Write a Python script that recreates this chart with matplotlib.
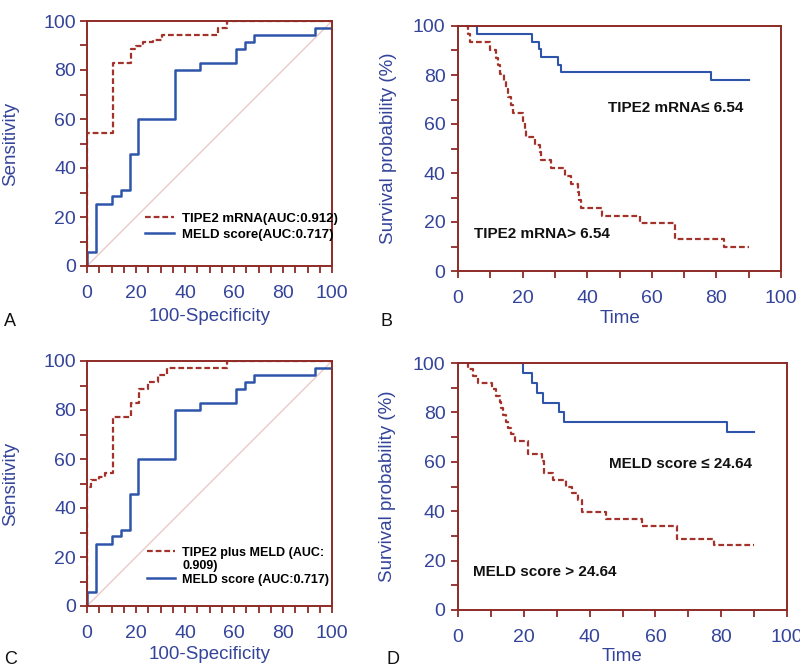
import matplotlib
matplotlib.use("Agg")
import matplotlib.pyplot as plt
from matplotlib.lines import Line2D
from matplotlib.ticker import MultipleLocator

plt.rcParams['font.family'] = ['Liberation Sans', 'DejaVu Sans']

# ---------------- data ----------------
# ROC panel A
rocA_tipe2_fpr = [0, 0, 10.7, 18.0, 20.0, 23.0, 27.0, 30.5, 53.5, 57.0, 100]
rocA_tipe2_tpr = [0, 54.2, 82.8, 88.6, 89.6, 91.4, 92.3, 94.1, 97.2, 100, 100]
roc_meld_fpr = [0, 0, 3.8, 10.4, 14.0, 17.7, 20.9, 35.9, 46.1, 60.7, 64.3, 68.0, 93.2, 100]
roc_meld_tpr = [0, 5.7, 25.5, 28.4, 31.0, 45.6, 60.0, 80.1, 82.9, 88.6, 91.4, 94.3, 97.1, 100]
# ROC panel C
rocC_comb_fpr = [0, 0, 1.8, 5.0, 7.5, 10.6, 18.0, 21.3, 25.0, 29.0, 32.5, 57.0, 100]
rocC_comb_tpr = [0, 48.5, 51.4, 52.8, 54.3, 77.0, 82.8, 88.6, 91.4, 94.3, 97.1, 100, 100]
# KM panel B
kmB_low_t = [2.6, 5.8, 23.0, 25.0, 25.8, 31.0, 32.0, 78.2, 90.2]
kmB_low_s = [100, 96.8, 93.6, 90.6, 87.4, 84.2, 81.2, 77.9, 77.9]
kmB_high_t = [2.6, 3.0, 3.6, 9.8, 11.9, 12.5, 13.0, 14.3, 15.0, 15.5, 16.3, 17.0, 20.1, 20.6,
              21.0, 23.8, 25.5, 25.8, 28.9, 33.0, 35.1, 37.0, 37.6, 38.2, 44.7, 56.3, 67.1, 82.3, 90.2]
kmB_high_s = [100, 96.8, 93.5, 90.3, 87.1, 83.9, 80.6, 77.4, 74.2, 71.0, 67.7, 64.5, 61.3, 58.1,
              54.8, 51.6, 48.4, 45.2, 41.9, 38.7, 35.5, 32.3, 29.0, 25.8, 22.6, 19.4, 12.9, 9.7, 9.7]
# KM panel D
kmD_low_t = [2.6, 19.8, 22.4, 24.1, 25.7, 30.8, 32.2, 81.9, 90.0]
kmD_low_s = [100, 96, 92, 88, 84, 80, 76, 72, 72]
kmD_high_t = [2.6, 3.0, 4.6, 6.1, 10.2, 11.7, 12.7, 13.2, 13.7, 14.7, 15.2, 16.2, 17.3, 21.2,
              25.4, 26.0, 28.9, 32.8, 34.5, 36.5, 37.6, 45.0, 55.8, 66.5, 77.9, 90.0]
kmD_high_s = [100, 97.4, 94.7, 92.1, 89.5, 86.8, 84.2, 81.6, 78.9, 76.3, 73.7, 71.1, 68.4, 63.2,
              60.5, 55.3, 52.6, 50.0, 47.4, 44.7, 39.5, 36.8, 34.2, 28.9, 26.3, 26.3]

ticks = [0, 20, 40, 60, 80, 100]

# ---------------- style ----------------
SPINE = '#8e2b26'
RED = '#a3322a'
BLUE = '#2f55aa'
TXT = '#34449a'
DIAG = '#ebc9c9'
DASH = (0, (2.6, 1.3))

fig = plt.figure(figsize=(8, 6.68), dpi=100)


def style_axes(ax, xminor, ypad):
    ax.set_xlim(0, 100)
    ax.set_ylim(0, 100)
    ax.set_xticks(ticks)
    ax.set_yticks(ticks)
    ax.xaxis.set_minor_locator(MultipleLocator(xminor))
    ax.yaxis.set_minor_locator(MultipleLocator(10))
    for s in ax.spines.values():
        s.set_color(SPINE)
        s.set_linewidth(1.4)
        s.set_zorder(5)
    ax.tick_params(which='both', direction='out', color=SPINE, width=1.3,
                   top=False, right=False)
    ax.tick_params(which='major', length=5, labelsize=14, labelcolor=TXT)
    ax.tick_params(which='minor', length=5)
    ax.tick_params(axis='x', which='major', pad=9)
    ax.tick_params(axis='y', which='major', pad=ypad)


def fpos(l, t, r, b):
    return [l / 800, 1 - b / 668, (r - l) / 800, (b - t) / 668]


LBL = 13.5

# Panel A
axA = fig.add_axes(fpos(87, 21, 332, 266))
style_axes(axA, 5, 3)
axA.plot([0, 100], [0, 100], color=DIAG, lw=1.0, zorder=1)
axA.plot(rocA_tipe2_fpr, rocA_tipe2_tpr, drawstyle='steps-post', color=RED, lw=1.6,
         linestyle=DASH, label='TIPE2 mRNA(AUC:0.912)')
axA.plot(roc_meld_fpr, roc_meld_tpr, drawstyle='steps-post', color=BLUE, lw=1.8,
         label='MELD score(AUC:0.717)')
axA.set_ylabel('Sensitivity', fontsize=LBL, color=TXT)
axA.set_xlabel('100-Specificity', fontsize=LBL, color=TXT)
axA.yaxis.set_label_coords(-0.278, 0.5)
axA.xaxis.set_label_coords(0.5, -0.172)
axA.legend(loc='upper left', bbox_to_anchor=(0.215, 0.24), frameon=False,
           prop={'weight': 'bold', 'size': 9.5}, handlelength=2.2, labelspacing=0.3,
           handletextpad=0.6, borderaxespad=0)

# Panel B
axB = fig.add_axes(fpos(458, 26, 781, 271))
style_axes(axB, 10, 4)
axB.plot(kmB_high_t, kmB_high_s, drawstyle='steps-post', color=RED, lw=1.6, linestyle=DASH)
axB.plot(kmB_low_t, kmB_low_s, drawstyle='steps-post', color=BLUE, lw=1.5)
axB.set_ylabel('Survival probability (%)', fontsize=LBL, color=TXT)
axB.set_xlabel('Time', fontsize=LBL, color=TXT)
axB.yaxis.set_label_coords(-0.19, 0.5)
axB.xaxis.set_label_coords(0.5, -0.16)
axB.text(67.5, 66.5, 'TIPE2 mRNA\u2264 6.54', fontsize=11, fontweight='bold',
         ha='center', va='center', color='#111111')
axB.text(26.0, 15.3, 'TIPE2 mRNA> 6.54', fontsize=11, fontweight='bold',
         ha='center', va='center', color='#111111')

# Panel C
axC = fig.add_axes(fpos(87, 361, 332, 606))
style_axes(axC, 5, 3)
axC.plot([0, 100], [0, 100], color=DIAG, lw=1.0, zorder=1)
lC1, = axC.plot(rocC_comb_fpr, rocC_comb_tpr, drawstyle='steps-post', color=RED, lw=1.6,
                linestyle=DASH)
lC2, = axC.plot(roc_meld_fpr, roc_meld_tpr, drawstyle='steps-post', color=BLUE, lw=1.8)
blank = Line2D([], [], color='none')
axC.set_ylabel('Sensitivity', fontsize=LBL, color=TXT)
axC.set_xlabel('100-Specificity', fontsize=LBL, color=TXT)
axC.yaxis.set_label_coords(-0.278, 0.5)
axC.xaxis.set_label_coords(0.5, -0.165)
axC.legend([lC1, blank, lC2],
           ['TIPE2 plus MELD (AUC:', '0.909)', 'MELD score (AUC:0.717)'],
           loc='upper left', bbox_to_anchor=(0.225, 0.262), frameon=False,
           prop={'weight': 'bold', 'size': 9}, handlelength=2.2, labelspacing=0.12,
           handletextpad=0.6, borderaxespad=0)

# Panel D
axD = fig.add_axes(fpos(458, 363, 787, 610))
style_axes(axD, 10, 4)
axD.plot(kmD_high_t, kmD_high_s, drawstyle='steps-post', color=RED, lw=1.6, linestyle=DASH)
axD.plot(kmD_low_t, kmD_low_s, drawstyle='steps-post', color=BLUE, lw=1.5)
axD.set_ylabel('Survival probability (%)', fontsize=LBL, color=TXT)
axD.set_xlabel('Time', fontsize=LBL, color=TXT)
axD.yaxis.set_label_coords(-0.188, 0.5)
axD.xaxis.set_label_coords(0.5, -0.152)
axD.text(67.5, 59.3, 'MELD score \u2264 24.64', fontsize=11, fontweight='bold',
         ha='center', va='center', color='#111111')
axD.text(26.5, 15.4, 'MELD score > 24.64', fontsize=11, fontweight='bold',
         ha='center', va='center', color='#111111')

# Panel letters
for lbl, x, y in [('A', 4, 321), ('B', 380, 321), ('C', 4, 659), ('D', 386, 659)]:
    fig.text(x / 800, 1 - y / 668, lbl, fontsize=13, ha='left', va='center', color='#111111')

fig.savefig('out.png', dpi=100)
